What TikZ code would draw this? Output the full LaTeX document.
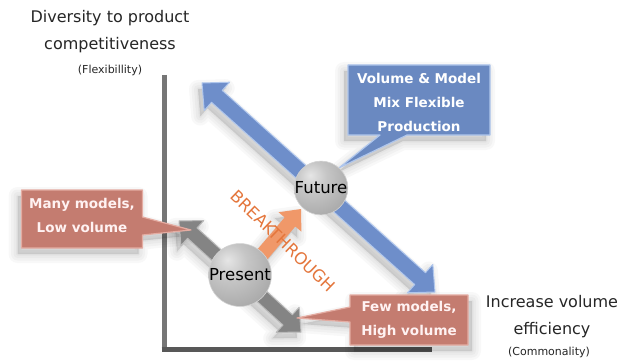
\documentclass[tikz,border=0pt]{standalone}
\usepackage{fontspec}
\setmainfont{DejaVu Sans}
\usetikzlibrary{calc,backgrounds}
\definecolor{bluefill}{RGB}{110,142,202}
\definecolor{blueedge}{RGB}{175,198,236}
\definecolor{callblue}{RGB}{106,137,193}
\definecolor{salmon}{RGB}{196,124,112}
\definecolor{salmonedge}{RGB}{228,172,162}
\definecolor{grayarrow}{RGB}{132,132,132}
\definecolor{grayedge}{RGB}{185,185,185}
\definecolor{orangearrow}{RGB}{240,152,105}
\definecolor{orangetext}{RGB}{228,118,60}
\definecolor{axisgray}{RGB}{118,118,118}
\definecolor{axisdark}{RGB}{88,88,88}
\pgfdeclareradialshading{greyball}{\pgfpoint{-10bp}{12bp}}{%
  color(0bp)=(white!80!gray); color(14bp)=(gray!45); color(40bp)=(gray!72);
  color(56bp)=(gray!88); color(66bp)=(gray!95); color(100bp)=(gray!95)}
\newcommand\myfs[2]{\fontsize{#1}{#2}\selectfont}
% double-headed block arrow: #1 start, #2 end, #3 shaft half width, #4 head half width, #5 head length, #6 style
\newcommand\dblarrow[6]{%
  \coordinate (#1-h) at ($(#1)!#5!(#2)$);
  \coordinate (#2-h) at ($(#2)!#5!(#1)$);
  \path[#6] (#1) -- ($(#1-h)!#4!90:(#2)$) -- ($(#1-h)!#3!90:(#2)$) -- ($(#2-h)!#3!-90:(#1)$) -- ($(#2-h)!#4!-90:(#1)$) -- (#2) -- ($(#2-h)!#4!90:(#1)$) -- ($(#2-h)!#3!90:(#1)$) -- ($(#1-h)!#3!-90:(#2)$) -- ($(#1-h)!#4!-90:(#2)$) -- cycle;}
% single-headed block arrow: #1 tail, #2 tip
\newcommand\sglarrow[6]{%
  \coordinate (#2-h) at ($(#2)!#5!(#1)$);
  \path[#6] ($(#1)!#3!90:(#2)$) -- ($(#2-h)!#3!-90:(#1)$) -- ($(#2-h)!#4!-90:(#1)$) -- (#2) -- ($(#2-h)!#4!90:(#1)$) -- ($(#2-h)!#3!90:(#1)$) -- ($(#1)!#3!-90:(#2)$) -- cycle;}
\newcommand\volpath{($(vol)+(-71,-37)$) -- ($(vol)+(71,-37)$) -- ($(vol)+(71,33)$) -- ($(vol)+(-12,33)$) -- (future.48) -- ($(vol)+(-39,33)$) -- ($(vol)+(-71,33)$) -- cycle}
\newcommand\manypath{($(many)+(-60.5,-25)$) -- ($(many)+(60.5,-25)$) -- ($(many)+(60.5,2)$) -- (tipMany) -- ($(many)+(60.5,20)$) -- ($(many)+(60.5,33)$) -- ($(many)+(-60.5,33)$) -- cycle}
\newcommand\fewpath{($(few)+(-59,-25)$) -- ($(few)+(59,-25)$) -- ($(few)+(59,25)$) -- ($(few)+(-59,25)$) -- ($(few)+(-59,2)$) -- (tipFew) -- ($(few)+(-59,-13)$) -- cycle}
\begin{document}
\begin{tikzpicture}[x=1pt,y=-1pt,
  lbl/.style={text=black!85, align=center, inner sep=0pt},
  boxtext/.style={text=white, align=center, font=\bfseries\myfs{13.5}{24}, inner sep=0pt},
  ball/.style={circle, minimum size=42pt, inner sep=0pt, shading=greyball, draw=gray!35, line width=0.6pt, text=black, font=\myfs{16.5}{17}},
  sh/.style={fill=black, draw=black, fill opacity=0.028, draw opacity=0.028, line width=#1, line join=round, transform canvas={shift={(-4,6)}}},
  shr/.style={fill=black, draw=black, fill opacity=0.028, draw opacity=0.028, line width=#1, line join=round, transform canvas={shift={(4,6)}}},
  bluebox/.style={fill=callblue, draw=blueedge, line width=1.2pt, line join=round},
  salmonbox/.style={fill=salmon, draw=salmonedge, line width=1.2pt, line join=round},
  axis/.style={line width=5pt, color=axisgray},
]
\useasboundingbox (0,0) rectangle (619,361);
% coordinates
\coordinate (origin) at (164,349);
\coordinate (ytop) at (164,75);
\coordinate (xend) at (432,349);
\coordinate (bA) at (202,83);
\coordinate (bB) at (435,292);
\coordinate (gA) at (179,221);
\coordinate (gB) at (301,332);
\coordinate (oT) at (261,256);
\coordinate (oP) at (301,209);
\coordinate (tipMany) at (191,230);
\coordinate (tipFew) at (297,318);
% text nodes
\node[lbl, font=\myfs{16}{27}] (ylab) at (110,31.5) {Diversity to product\\competitiveness};
\node[lbl, font=\myfs{11}{12}] (yflex) at (110,70) {(Flexibillity)};
\node[lbl, font=\myfs{16}{27}] (xlab) at (552,316.5) {Increase volume\\efficiency};
\node[lbl, font=\myfs{11}{12}] (xcom) at (549,352) {(Commonality)};
\node[ball] (future) at (321,188) {Future};
\node[ball] (present) at (240,275) {Present};
\node[boxtext] (vol) at (419,102) {Volume \& Model\\Mix Flexible\\Production};
\node[boxtext, text=white!95!red] (many) at (82,215) {Many models,\\Low volume};
\node[boxtext, text=white!95!red] (few) at (409,320) {Few models,\\High volume};
\node[rotate=-44, text=orangetext, font=\myfs{16.5}{17}, inner sep=0pt] (brk) at (283,241) {BREAKTHROUGH};
\begin{scope}[on background layer]
\fill[white] (0,0) rectangle (619,361);
\draw[axis] (ytop) -- ($(origin)+(0,2.5)$);
\draw[axis, color=axisdark] ($(origin)+(-2.5,0)$) -- (xend);
% soft shadows
\foreach \w in {18pt,13pt,8pt,3pt} {
  \dblarrow{bA}{bB}{8pt}{19pt}{20pt}{sh=\w}
  \dblarrow{gA}{gB}{7pt}{17pt}{18pt}{sh=\w}
  \sglarrow{oT}{oP}{7pt}{15pt}{17pt}{sh=\w}
  \path[sh=\w] \volpath;
  \path[sh=\w] \manypath;
  \path[shr=\w] \fewpath;
}
% arrows
\dblarrow{bA}{bB}{8pt}{19pt}{20pt}{fill=bluefill, draw=blueedge, line width=1pt, line join=round}
\dblarrow{gA}{gB}{7pt}{17pt}{18pt}{fill=grayarrow, draw=grayedge, line width=1pt, line join=round}
\sglarrow{oT}{oP}{7pt}{15pt}{17pt}{fill=orangearrow}
% callouts
\path[bluebox] \volpath;
\path[salmonbox] \manypath;
\path[salmonbox] \fewpath;
\end{scope}
\end{tikzpicture}
\end{document}
